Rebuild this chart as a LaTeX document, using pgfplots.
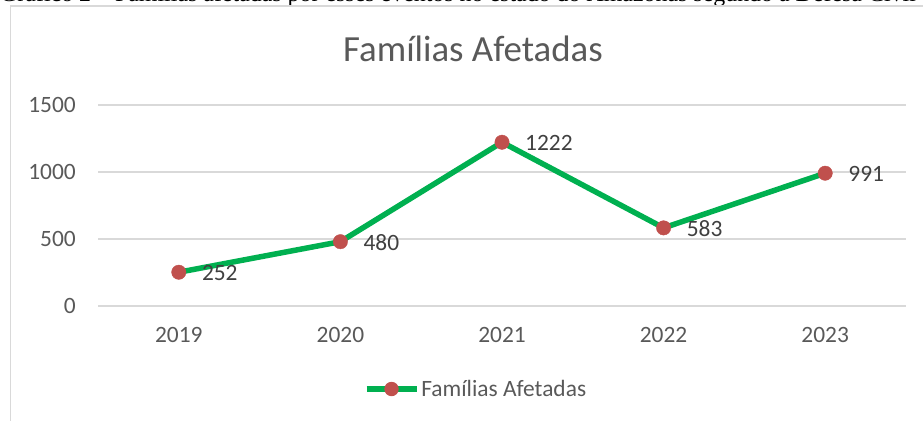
\documentclass[border=0pt]{standalone}
\usepackage{fontspec}
\setmainfont{Carlito}
\newfontfamily\capfont{Liberation Serif}
\usepackage{pgfplots}
\pgfplotsset{compat=1.18}
\definecolor{lgreen}{HTML}{00B050}
\definecolor{mred}{HTML}{C0504D}
\definecolor{gridc}{HTML}{D9D9D9}
\definecolor{tickc}{HTML}{595959}
\definecolor{labc}{HTML}{404040}
\begin{document}
\begin{tikzpicture}
\useasboundingbox (0bp,0bp) rectangle (923bp,421bp);
\clip (0bp,0bp) rectangle (923bp,421bp);
\node[anchor=base west, inner sep=0pt, font=\capfont\fontsize{24}{24}\selectfont] at (0bp,419.5bp) {Gráfico 2 – Famílias afetadas por esses eventos no estado do Amazonas segundo a Defesa Civil};
\draw[gridc, line width=1.2bp] (10.5bp,-5bp) -- (10.5bp,415bp) -- (940bp,415bp);
\node[text=tickc, font=\fontsize{37}{37}\selectfont, anchor=base, inner sep=0pt] at (473bp,359bp) {Famílias Afetadas};
\begin{axis}[
  at={(98bp,115bp)}, anchor=south west,
  width=808bp, height=201bp, scale only axis,
  xmin=-0.5, xmax=4.5, ymin=0, ymax=1500,
  axis line style={draw=none},
  ytick={0,500,1000,1500},
  xtick={0,1,2,3,4}, xticklabels={2019,2020,2021,2022,2023},
  ymajorgrids, grid style={gridc, line width=1.2bp},
  major tick length=0pt,
  tick label style={text=tickc, font=\fontsize{23.5}{23.5}\selectfont, inner sep=0pt},
  xticklabel style={anchor=center, yshift=-29bp},
  yticklabel style={anchor=east, xshift=-22bp},
  /pgf/number format/assume math mode=true,
  /pgf/number format/1000 sep={},
  clip=false,
  legend style={draw=none, fill=none, at={(0.4678,-0.413)}, anchor=center,
    font=\fontsize{23.5}{23.5}\selectfont, text=tickc},
  legend image code/.code={
    \draw[lgreen, line width=5.5bp] (0bp,0bp) -- (50bp,0bp);
    \path[fill=mred, draw=none] (25bp,0bp) circle (7.2bp);
  },
]
\addplot[lgreen, line width=5.5bp, mark=*, mark size=7.2bp,
  mark options={draw=mred, fill=mred, line width=0.4bp},
  nodes near coords,
  nodes near coords style={anchor=west, xshift=23bp, yshift=-1bp, text=labc,
    font=\fontsize{23.5}{23.5}\selectfont, inner sep=0pt}]
  coordinates {(0,252) (1,480) (2,1222) (3,583) (4,991)};
\addlegendentry{Famílias Afetadas}
\end{axis}
\end{tikzpicture}
\end{document}
